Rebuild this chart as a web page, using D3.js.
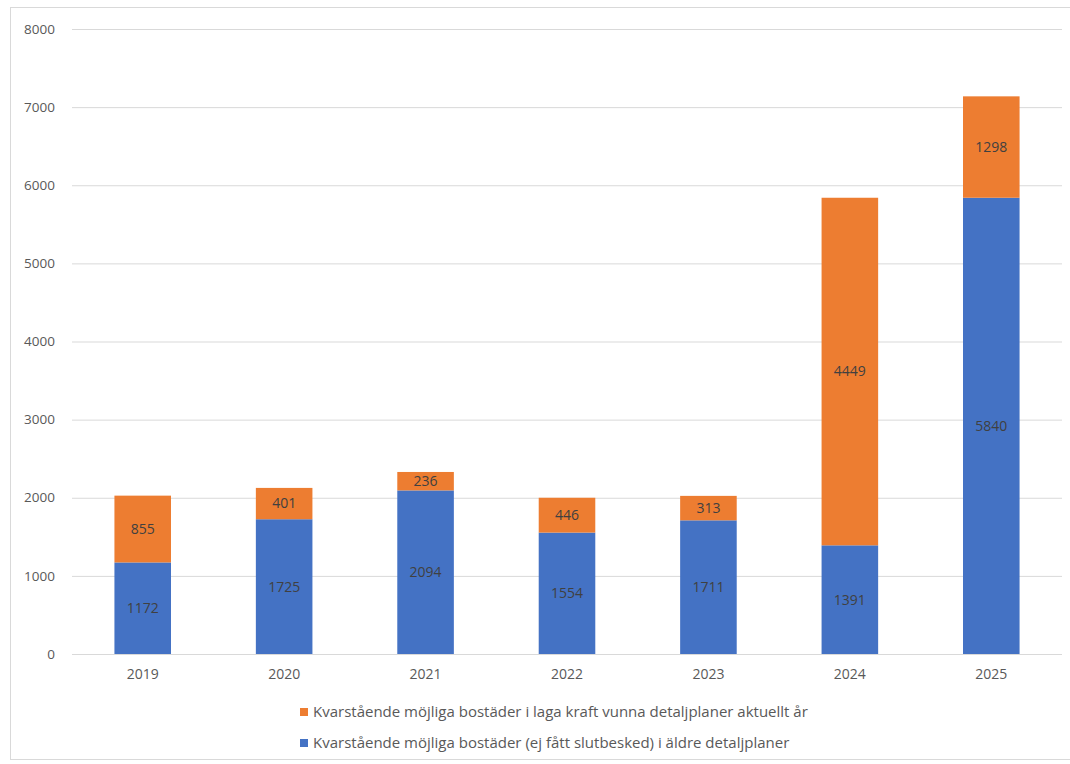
<!DOCTYPE html>
<html><head><meta charset="utf-8">
<script src="https://cdn.jsdelivr.net/npm/d3@7"></script>
<style>body{margin:0;background:#fff}svg{display:block}</style>
</head><body><svg id="c" width="1070" height="764"></svg>
<script>
const years = ["2019","2020","2021","2022","2023","2024","2025"];
const older = [1172,1725,2094,1554,1711,1391,5840];
const current = [855,401,236,446,313,4449,1298];
const yTicks = [0,1000,2000,3000,4000,5000,6000,7000,8000];
const seriesNames = ["Kvarstående möjliga bostäder i laga kraft vunna detaljplaner aktuellt år","Kvarstående möjliga bostäder (ej fått slutbesked) i äldre detaljplaner"];
const colors = {older:"#4472C4", current:"#ED7D31"};

const svg = d3.select("#c");
const font = "'Open Sans', 'Noto Sans', sans-serif";
svg.append("rect").attr("x",10.5).attr("y",7.5).attr("width",1070).attr("height",752).attr("fill","none").attr("stroke","#d9d9d9");

const x = d3.scaleBand().domain(years).range([72,1062]).paddingInner(0.6).paddingOuter(0.3);
const y = d3.scaleLinear().domain([0,8000]).range([654,29]);

const g = svg.append("g");
g.selectAll("line.grid").data(yTicks).join("line").attr("class","grid")
 .attr("x1",72).attr("x2",1062).attr("y1",d=>y(d)+0.5).attr("y2",d=>y(d)+0.5)
 .attr("stroke","#d9d9d9").attr("stroke-width",1);
g.selectAll("text.yt").data(yTicks).join("text").attr("class","yt")
 .attr("x",55).attr("y",d=>y(d)).attr("dy","0.35em").attr("text-anchor","end")
 .attr("font-family",font).attr("font-size",13.5).attr("fill","#595959").text(d=>d);

const data = years.map((yr,i)=>({yr,o:older[i],c:current[i]}));
const bars = g.selectAll("g.bar").data(data).join("g");
bars.append("rect").attr("x",d=>x(d.yr)).attr("width",x.bandwidth())
 .attr("y",d=>y(d.o)).attr("height",d=>y(0)-y(d.o)).attr("fill",colors.older);
bars.append("rect").attr("x",d=>x(d.yr)).attr("width",x.bandwidth())
 .attr("y",d=>y(d.o+d.c)).attr("height",d=>y(d.o)-y(d.o+d.c)).attr("fill",colors.current);
bars.append("text").attr("x",d=>x(d.yr)+x.bandwidth()/2).attr("y",d=>y(d.o/2)).attr("dy","0.35em")
 .attr("text-anchor","middle").attr("font-family",font).attr("font-size",14).attr("fill","#404040").text(d=>d.o);
bars.append("text").attr("x",d=>x(d.yr)+x.bandwidth()/2).attr("y",d=>y(d.o+d.c/2)).attr("dy","0.35em")
 .attr("text-anchor","middle").attr("font-family",font).attr("font-size",14).attr("fill","#404040").text(d=>d.c);

g.selectAll("text.xt").data(years).join("text").attr("class","xt")
 .attr("x",d=>x(d)+x.bandwidth()/2).attr("y",674).attr("dy","0.35em").attr("text-anchor","middle")
 .attr("font-family",font).attr("font-size",14).attr("fill","#595959").text(d=>d);

const leg = svg.append("g");
const legItems = [{n:seriesNames[0],c:colors.current,y:712},{n:seriesNames[1],c:colors.older,y:743}];
legItems.forEach(it=>{
  leg.append("rect").attr("x",300).attr("y",it.y-4).attr("width",8).attr("height",8).attr("fill",it.c);
  leg.append("text").attr("x",313).attr("y",it.y).attr("dy","0.35em").attr("font-family",font)
   .attr("font-size",15).attr("fill","#595959").text(it.n);
});
</script></body></html>
